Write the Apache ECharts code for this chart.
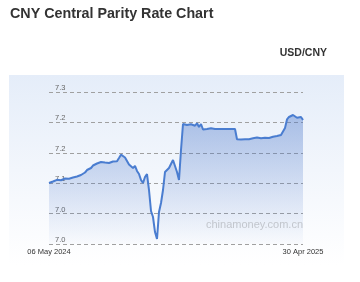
<!DOCTYPE html>
<html>
<head>
<meta charset="utf-8">
<script src="https://cdn.jsdelivr.net/npm/echarts@6/dist/echarts.min.js"></script>
<style>
html,body{margin:0;padding:0;background:#fff;}
#chart{width:360px;height:282px;}
</style>
</head>
<body>
<div id="chart"></div>
<script>
// USD/CNY central parity (06 May 2024 -> 30 Apr 2025)
const startLabel = '06 May 2024';
const endLabel = '30 Apr 2025';
const rates = [
  7.1003, 7.1011, 7.1028, 7.1036, 7.1056, 7.1044, 7.1048, 7.1069, 7.1077, 7.1069,
  7.1074, 7.1086, 7.1094, 7.1102, 7.1110, 7.1123, 7.1135, 7.1160, 7.1176, 7.1217,
  7.1234, 7.1250, 7.1291, 7.1299, 7.1324, 7.1332, 7.1349, 7.1324, 7.1340, 7.1360,
  7.1332, 7.1332, 7.1357, 7.1370, 7.1360, 7.1414, 7.1469, 7.1456, 7.1423, 7.1414,
  7.1308, 7.1332, 7.1250, 7.1283, 7.1201, 7.1151, 7.1053, 7.1003, 7.1102, 7.1151,
  7.0888, 7.0543, 7.0444, 7.0197, 7.0082, 7.0526, 7.0674, 7.0888, 7.1184, 7.1201,
  7.1250, 7.1266, 7.1382, 7.1283, 7.1184, 7.1053, 7.1546, 7.1974, 7.1985, 7.1957,
  7.1965, 7.1969, 7.1949, 7.1946, 7.1985, 7.1924, 7.1974, 7.1883, 7.1903, 7.1891,
  7.1900, 7.1903, 7.1891, 7.1891, 7.1895, 7.1891, 7.1893, 7.1891, 7.1893, 7.1891,
  7.1893, 7.1891, 7.1893, 7.1891, 7.1722, 7.1714, 7.1719, 7.1710, 7.1722, 7.1727,
  7.1724, 7.1735, 7.1738, 7.1734, 7.1752, 7.1760, 7.1738, 7.1752, 7.1748, 7.1735,
  7.1743, 7.1760, 7.1763, 7.1771, 7.1776, 7.1781, 7.1793, 7.1801, 7.1908, 7.2048,
  7.2089, 7.2097, 7.2122, 7.2097, 7.2077, 7.2097, 7.2089, 7.2039
];
const yTickValues = [7.00, 7.05, 7.10, 7.15, 7.20, 7.25];
const yTickLabels = ['7.0', '7.0', '7.1', '7.2', '7.2', '7.3'];

const categories = rates.map((_, i) => i === 0 ? startLabel : (i === rates.length - 1 ? endLabel : String(i)));

const chart = echarts.init(document.getElementById('chart'), null, {renderer: 'canvas'});
const FONT = 'Liberation Sans, Arial, sans-serif';
chart.setOption({
  animation: false,
  backgroundColor: '#ffffff',
  title: {
    text: 'CNY Central Parity Rate Chart',
    left: 10, top: 7, padding: 0,
    textStyle: {fontSize: 14.3, fontWeight: 'bold', color: '#333', fontFamily: FONT}
  },
  graphic: [
    {
      type: 'rect', z: -100, silent: true,
      shape: {x: 9, y: 75, width: 335, height: 190},
      style: {
        fill: new echarts.graphic.LinearGradient(0, 0, 0, 1, [
          {offset: 0, color: '#e5edf9'},
          {offset: 1, color: '#ffffff'}
        ])
      }
    },
    {
      type: 'text', z: 50, silent: true,
      style: {
        text: 'USD/CNY', x: 327, y: 53, align: 'right', verticalAlign: 'middle',
        font: 'bold 10.5px ' + FONT, fill: '#333'
      }
    },
    {
      type: 'text', z: 50, silent: true,
      style: {
        text: 'chinamoney.com.cn', x: 303, y: 225, align: 'right', verticalAlign: 'middle',
        font: '11px ' + FONT, fill: '#c2c6cd'
      }
    }
  ],
  grid: {left: 49, right: 57, top: 92, bottom: 38},
  xAxis: {
    type: 'category',
    data: categories,
    boundaryGap: false,
    axisLine: {show: false},
    axisTick: {show: false},
    splitLine: {show: false},
    axisLabel: {
      interval: (i) => i === 0 || i === rates.length - 1,
      showMinLabel: true, showMaxLabel: true,
      fontSize: 7.5, color: '#333', margin: 4, fontFamily: FONT,
      formatter: (v, i) => (i === 0 ? startLabel : endLabel)
    }
  },
  yAxis: {
    type: 'value',
    min: yTickValues[0], max: yTickValues[yTickValues.length - 1], interval: 0.05,
    axisLine: {show: false},
    axisTick: {show: false},
    splitLine: {show: true, lineStyle: {color: '#a0a0a0', type: [4, 3], width: 1}},
    axisLabel: {
      inside: true, margin: 6, verticalAlign: 'bottom',
      fontSize: 7.5, color: '#666', fontFamily: FONT,
      formatter: (v) => {
        const k = yTickValues.findIndex(t => Math.abs(t - v) < 1e-6);
        return k >= 0 ? yTickLabels[k] : '';
      }
    }
  },
  series: [{
    type: 'line',
    data: rates,
    showSymbol: false,
    symbol: 'none',
    lineStyle: {color: '#4a7dd0', width: 2},
    areaStyle: {
      origin: 'start',
      color: new echarts.graphic.LinearGradient(0, 0, 0, 1, [
        {offset: 0, color: 'rgba(70,115,200,0.58)'},
        {offset: 1, color: 'rgba(70,115,200,0.03)'}
      ])
    }
  }]
});
</script>
</body>
</html>
